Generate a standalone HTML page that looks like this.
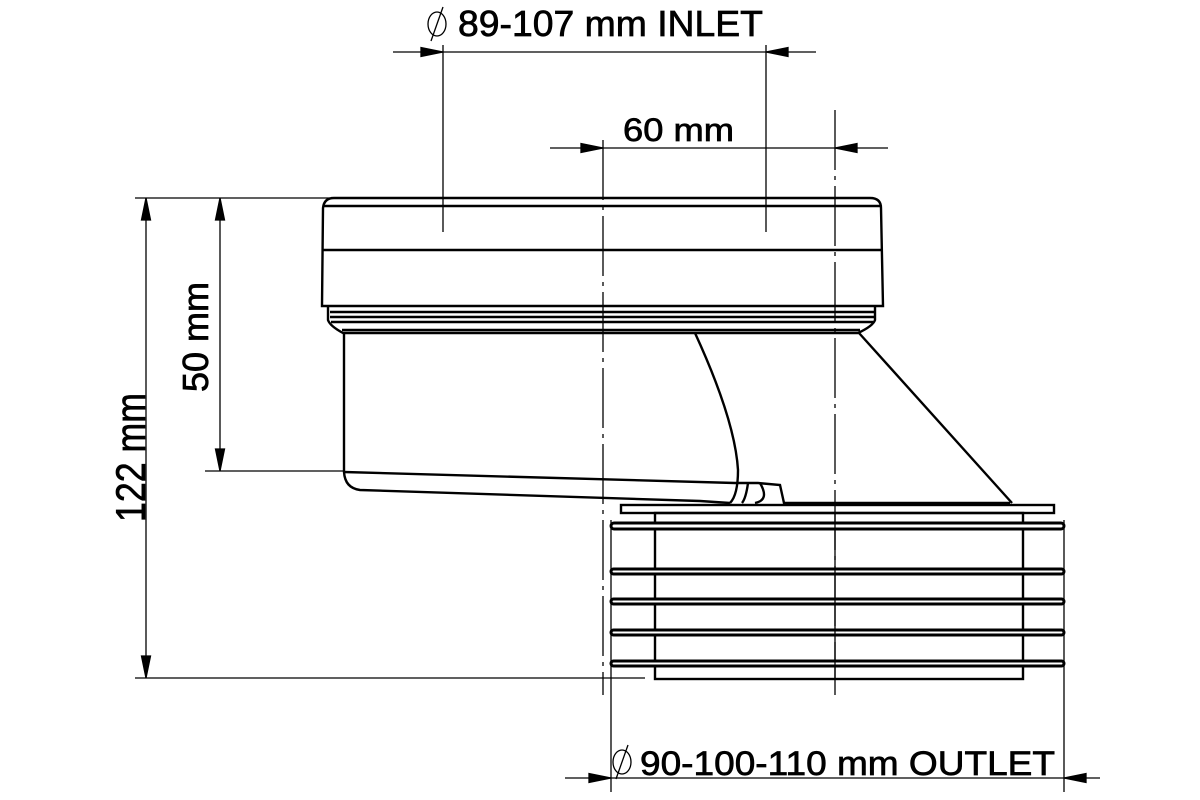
<!DOCTYPE html>
<html><head><style>html,body{margin:0;padding:0;background:#fff}svg{display:block}</style></head>
<body>
<svg width="1200" height="800" viewBox="0 0 1200 800" xmlns="http://www.w3.org/2000/svg">
<g fill="none" stroke="#000" stroke-width="1.3">
<line x1="135" y1="198" x2="330" y2="198"/>
<line x1="135" y1="678" x2="645" y2="678"/>
<line x1="146" y1="198" x2="146" y2="678"/>
<path d="M146,198 l-4.5,22 l9,0z M146,678 l-4.5,-22 l9,0z" fill="#000"/>
<line x1="205" y1="471" x2="345" y2="471"/>
<line x1="220" y1="198" x2="220" y2="471"/>
<path d="M220,198 l-4.5,22 l9,0z M220,471 l-4.5,-22 l9,0z" fill="#000"/>
<line x1="443" y1="45" x2="443" y2="232"/>
<line x1="766" y1="45" x2="766" y2="232"/>
<line x1="393" y1="52" x2="816" y2="52"/>
<path d="M443,52 l-22,-4.5 l0,9z M766,52 l22,-4.5 l0,9z" fill="#000"/>
<line x1="550" y1="148" x2="888" y2="148"/>
<path d="M603,148 l-22,-4.5 l0,9z M835,148 l22,-4.5 l0,9z" fill="#000"/>
<line x1="603" y1="140" x2="603" y2="695" stroke-dasharray="60,6,4,6"/>
<line x1="835" y1="110" x2="835" y2="695" stroke-dasharray="60,6,4,6"/>
<line x1="611" y1="520" x2="611" y2="792"/>
<line x1="1064" y1="520" x2="1064" y2="792"/>
<line x1="565" y1="778" x2="1100" y2="778"/>
<path d="M611,778 l-22,-4.5 l0,9z M1064,778 l22,-4.5 l0,9z" fill="#000"/>
</g>
<g fill="none" stroke="#000" stroke-width="2.4">
<path d="M322,306 L323,208 Q324,198 334,198 L870,198 Q881,198 881,208 L883,306 Z"/>
<line x1="323" y1="206" x2="881" y2="206"/>
<line x1="323" y1="250" x2="882" y2="250"/>
<path d="M328,307 L328,320 Q330,326 343,333 L858,333 Q873,326 875,320 L875,307"/>
<line x1="330" y1="312" x2="874" y2="312"/>
<line x1="330" y1="317" x2="874" y2="317"/>
<line x1="331" y1="322" x2="873" y2="322"/>
<line x1="342" y1="330" x2="860" y2="330"/>
<path d="M344,333 L344,472 Q345,488 360,490 L700,501 L730,503"/>
<path d="M344,472 L735,483 L758,483 L780,485 L784,503 L1010,503"/>
<path d="M695,333 Q735,420 738,470 Q738,495 730,503"/>
<path d="M748,483 Q746,498 742,503 M760,483 Q770,500 755,503"/>
<path d="M859,333 L1012,503"/>
<rect x="621" y="505" width="433" height="8"/>
<rect x="655" y="513" width="368" height="166"/>
</g>
<g fill="#fff" stroke="#000" stroke-width="3">
<rect x="611" y="523" width="453" height="6" rx="3"/>
<rect x="611" y="569" width="453" height="5" rx="2.5"/>
<rect x="611" y="599" width="453" height="5" rx="2.5"/>
<rect x="611" y="630" width="453" height="5" rx="2.5"/>
<rect x="611" y="661" width="453" height="5" rx="2.5"/>
</g>
<line x1="835" y1="513" x2="835" y2="679" stroke="#000" stroke-width="1.3"/>
<g font-family="'Liberation Sans', sans-serif" fill="#000" stroke="#000" stroke-width="0.7">
<text x="458" y="36" font-size="36" textLength="305" lengthAdjust="spacingAndGlyphs">89-107 mm INLET</text>
<text x="623" y="141" font-size="32" textLength="111" lengthAdjust="spacingAndGlyphs">60 mm</text>
<text x="640" y="775" font-size="34" textLength="415" lengthAdjust="spacingAndGlyphs">90-100-110 mm OUTLET</text>
<text transform="translate(208,392) rotate(-90)" font-size="36" textLength="110" lengthAdjust="spacingAndGlyphs">50 mm</text>
<text transform="translate(145,522) rotate(-90)" font-size="42" textLength="129" lengthAdjust="spacingAndGlyphs">122 mm</text>
</g>
<g transform="translate(437,24)"><ellipse rx="9" ry="12" fill="none" stroke="#000" stroke-width="1.3"/><line x1="-6" y1="17" x2="6" y2="-17" stroke="#000" stroke-width="1.3"/></g>
<g transform="translate(622,762)"><ellipse rx="9" ry="12" fill="none" stroke="#000" stroke-width="1.3"/><line x1="-6" y1="17" x2="6" y2="-17" stroke="#000" stroke-width="1.3"/></g>
</svg>
</body></html>
